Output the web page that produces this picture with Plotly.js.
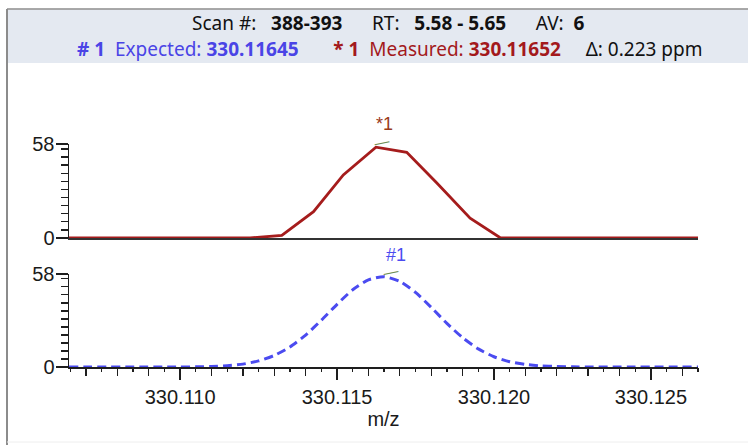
<!DOCTYPE html>
<html>
<head>
<meta charset="utf-8">
<script src="https://cdn.plot.ly/plotly-3.0.1.min.js"></script>
<style>
  html, body { margin: 0; padding: 0; background: #ffffff; }
  #chart { width: 748px; height: 445px; }
</style>
</head>
<body>
<div id="chart"></div>
<script>
// ---- data ----
const measuredMz = [330.10646, 330.10920, 330.11223, 330.11324, 330.11425, 330.11520, 330.11624, 330.11722, 330.11818, 330.11924, 330.12021, 330.12226, 330.12650];
const measuredIntensity = [0, 0, 0, 1.6, 16.2, 38.9, 56.0, 52.9, 33.9, 12.2, 0, 0, 0];

const expectedMz = [330.10646, 330.1100, 330.1105, 330.1110, 330.1115, 330.1120, 330.1125, 330.1130, 330.1135, 330.1140, 330.1145, 330.1150, 330.1155, 330.1160, 330.1165, 330.1170, 330.1175, 330.1180, 330.1185, 330.1190, 330.1195, 330.1200, 330.1205, 330.1210, 330.1215, 330.1220, 330.1225, 330.12650];
const expectedIntensity = [0, 0.04, 0.1, 0.3, 0.8, 1.8, 3.8, 7.2, 12.5, 19.9, 29.2, 39.1, 48.2, 54.4, 56.3, 53.4, 46.5, 37.2, 27.2, 18.3, 11.3, 6.4, 3.3, 1.6, 0.7, 0.3, 0.1, 0];

const xRange = [330.10646, 330.12650];
const yRange = [0, 58];
const yTickVals = [0, 58];
const xLabelVals = [330.110, 330.115, 330.120, 330.125];

const measuredLabel = {text: "*1", mz: 330.11650, y: 58};
const expectedLabel = {text: "#1", mz: 330.11688, y: 58};
const centroidMz = [330.11643, 330.11669];

const headerLine1 = "Scan #:\u00a0\u00a0 <b>388-393</b>\u00a0\u00a0\u00a0\u00a0\u00a0 RT:\u00a0\u00a0 <b>5.58 - 5.65</b>\u00a0\u00a0\u00a0\u00a0\u00a0 AV:\u00a0 <b>6</b>";
const headerLine2 = '<span style="color:#4a44e6"><b># 1</b>\u00a0 Expected: <b>330.11645</b></span>\u00a0\u00a0\u00a0\u00a0\u00a0\u00a0 ' +
                    '<span style="color:#a3191c"><b>* 1</b>\u00a0 Measured: <b>330.11652</b></span>\u00a0\u00a0\u00a0\u00a0 \u0394: 0.223 ppm';

// ---- geometry ----
const W = 748, H = 445;
const M = {l: 69, r: 50, t: 144, b: 78};
const PW = W - M.l - M.r, PH = H - M.t - M.b;
const px = x => (x - M.l) / PW;         // pixel -> paper x
const py = y => (H - M.b - y) / PH;     // pixel -> paper y

const RED = "#a51c1c";
const BLUE = "#4b4bf0";
const GREEN = "#6f8f55";
const AXC = "#1e1e1e";
const tickFont = {family: "Liberation Sans, Arial, sans-serif", size: 20, color: "#1a1a1a"};
const headFont = {family: "Noto Sans, Open Sans, sans-serif", size: 19, color: "#111111"};

const traces = [
  { x: measuredMz, y: measuredIntensity, xaxis: "x2", yaxis: "y2", mode: "lines",
    line: {color: RED, width: 2.8}, hoverinfo: "skip", cliponaxis: false },
  { x: expectedMz, y: expectedIntensity, xaxis: "x", yaxis: "y", mode: "lines",
    line: {color: BLUE, width: 3, dash: "9px,5px", shape: "spline", smoothing: 0.6}, hoverinfo: "skip", cliponaxis: false },
  { x: [], y: [], xaxis: "x3", yaxis: "y", mode: "lines", hoverinfo: "skip", showlegend: false }
];

const yCommon = {
  range: yRange, tickmode: "array", tickvals: yTickVals,
  ticks: "outside", ticklen: 12, tickwidth: 1.5, tickcolor: AXC, ticklabelstandoff: -3,
  minor: {dtick: 5, tick0: 0, ticks: "outside", ticklen: 7, tickwidth: 1.3, tickcolor: AXC},
  showline: true, linecolor: AXC, linewidth: 1.5,
  showgrid: false, zeroline: false, tickfont: tickFont
};

const layout = {
  width: W, height: H,
  margin: M,
  paper_bgcolor: "#ffffff",
  plot_bgcolor: "rgba(0,0,0,0)",
  showlegend: false,
  xaxis: {
    domain: [0, 1], anchor: "y", range: xRange,
    tickmode: "array", tickvals: xLabelVals, tickformat: ".3f",
    ticks: "outside", ticklen: 11, tickwidth: 1.5, tickcolor: AXC,
    minor: {dtick: 0.001, tick0: 330.110, ticks: "outside", ticklen: 7, tickwidth: 1.3, tickcolor: AXC},
    showline: true, linecolor: AXC, linewidth: 1.5,
    showgrid: false, zeroline: false, tickfont: tickFont,
    title: {text: "m/z", font: tickFont, standoff: 4}
  },
  xaxis3: {
    overlaying: "x", anchor: "y", range: xRange, side: "bottom",
    tickmode: "linear", dtick: 0.0005, tick0: 330.110,
    ticks: "outside", ticklen: 4, tickwidth: 1.3, tickcolor: AXC,
    showticklabels: false, showline: false, showgrid: false, zeroline: false
  },
  xaxis2: {
    domain: [0, 1], anchor: "y2", range: xRange,
    showticklabels: false, ticks: "",
    showline: true, linecolor: "#333333", linewidth: 1.5,
    showgrid: false, zeroline: false
  },
  yaxis: Object.assign({domain: [0, py(274)], anchor: "x"}, yCommon),
  yaxis2: Object.assign({domain: [py(238), 1], anchor: "x2"}, yCommon),
  shapes: [
    {type: "rect", xref: "paper", yref: "paper", x0: px(7), x1: px(748), y0: py(63), y1: py(9.5),
     fillcolor: "#e4e9f1", line: {width: 0}, layer: "below"},
    {type: "line", xref: "paper", yref: "paper", x0: px(7), x1: px(748), y0: py(9), y1: py(9),
     line: {color: "#8c8c8c", width: 1.5}},
    {type: "line", xref: "paper", yref: "paper", x0: px(7), x1: px(7), y0: py(9), y1: py(445),
     line: {color: "#8c8c8c", width: 2}},
    {type: "line", xref: "paper", yref: "paper", x0: px(7), x1: px(748), y0: py(442), y1: py(442),
     line: {color: "#eeeeee", width: 1}}
  ],
  annotations: [
    {xref: "paper", yref: "paper", x: px(388), y: py(23), xanchor: "center", yanchor: "middle",
     text: headerLine1, showarrow: false, font: headFont},
    {xref: "paper", yref: "paper", x: px(389), y: py(49), xanchor: "center", yanchor: "middle",
     text: headerLine2, showarrow: false, font: headFont},
    {xref: "x2", yref: "y2", x: measuredLabel.mz, y: measuredLabel.y, yshift: 20, xanchor: "center", yanchor: "middle",
     text: measuredLabel.text, showarrow: false,
     font: {family: "Liberation Sans, Arial, sans-serif", size: 18, color: "#9a3a1a"}},
    {xref: "x", yref: "y", x: expectedLabel.mz, y: expectedLabel.y, yshift: 19, xanchor: "center", yanchor: "middle",
     text: expectedLabel.text, showarrow: false,
     font: {family: "Liberation Sans, Arial, sans-serif", size: 18, color: "#4b4bf0"}},
    {xref: "x2", yref: "y2", x: centroidMz[0], y: 58, yshift: 3, xanchor: "center", yanchor: "middle",
     text: "\u2014", textangle: -12, showarrow: false,
     font: {family: "Liberation Sans, Arial, sans-serif", size: 15, color: GREEN}},
    {xref: "x", yref: "y", x: centroidMz[1], y: 58, yshift: 3, xanchor: "center", yanchor: "middle",
     text: "\u2014", textangle: -12, showarrow: false,
     font: {family: "Liberation Sans, Arial, sans-serif", size: 15, color: GREEN}}
  ]
};

Plotly.newPlot("chart", traces, layout, {staticPlot: true, displayModeBar: false});
</script>
</body>
</html>
